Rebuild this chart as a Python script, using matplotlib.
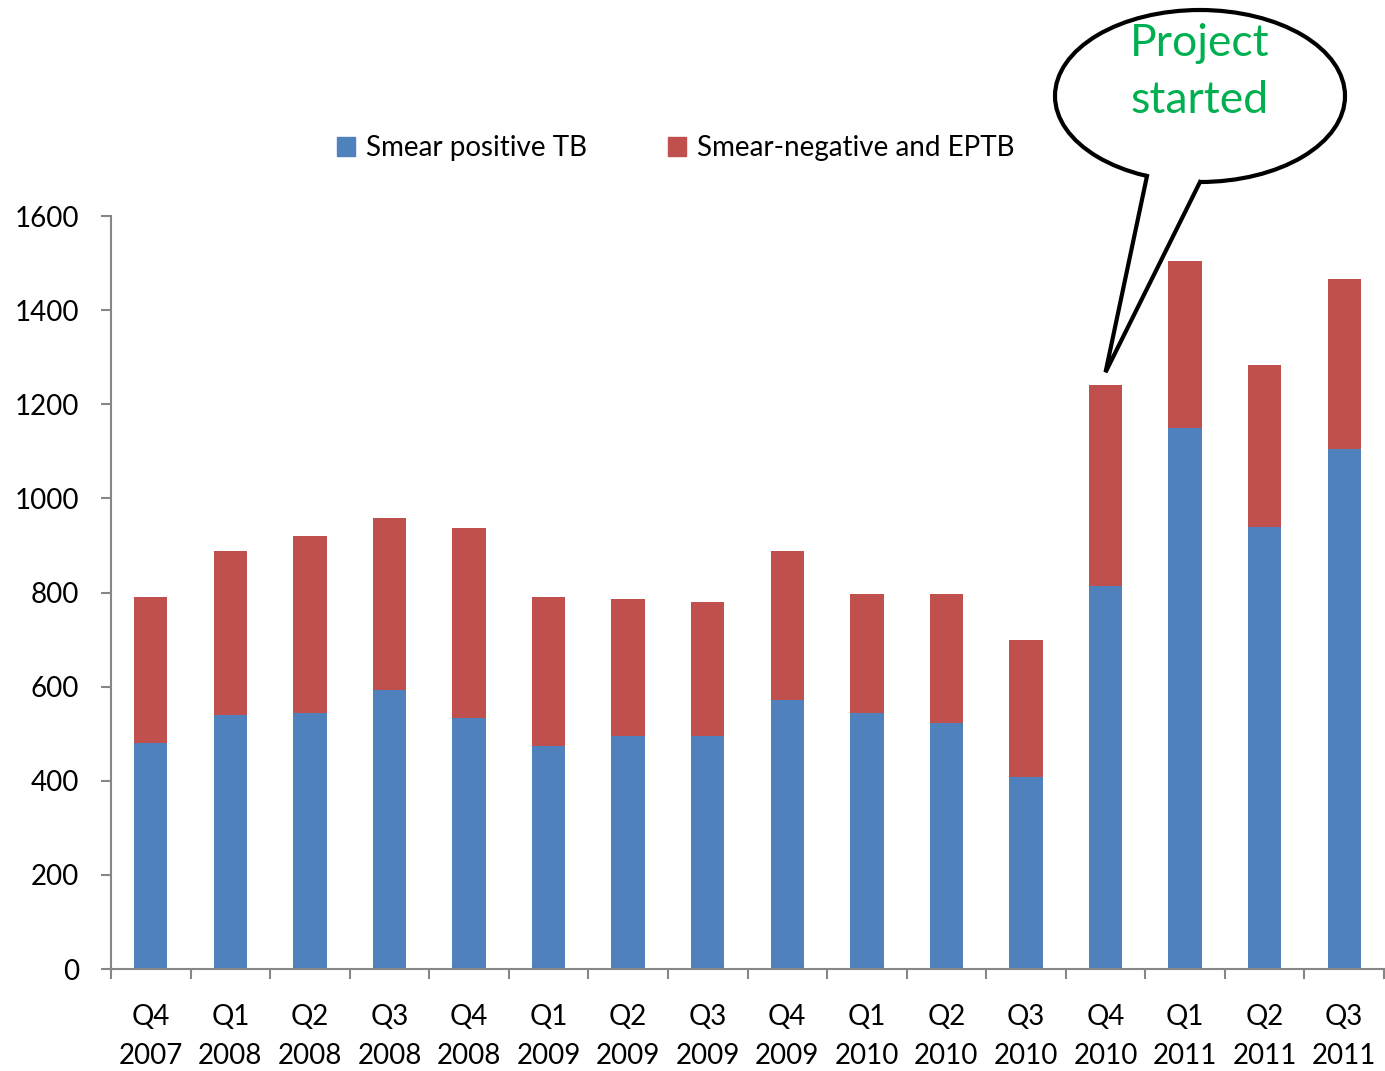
import matplotlib
matplotlib.use("Agg")
import matplotlib.pyplot as plt
from matplotlib.patches import Ellipse, Polygon, Patch
from matplotlib.lines import Line2D

plt.rcParams['font.family'] = ['Lato', 'DejaVu Sans']

quarters = ["Q4\n2007", "Q1\n2008", "Q2\n2008", "Q3\n2008", "Q4\n2008",
            "Q1\n2009", "Q2\n2009", "Q3\n2009", "Q4\n2009",
            "Q1\n2010", "Q2\n2010", "Q3\n2010", "Q4\n2010",
            "Q1\n2011", "Q2\n2011", "Q3\n2011"]
smear_pos = [480, 540, 544, 593, 533, 474, 495, 495, 572, 544, 523, 408, 814, 1150, 939, 1105]
totals = [790, 888, 920, 958, 937, 790, 786, 780, 888, 797, 797, 699, 1241, 1504, 1283, 1466]
smear_neg = [t - p for t, p in zip(totals, smear_pos)]

BLUE = "#4F81BD"
RED = "#C0504D"
GRAY = "#868686"

W, H = 1385, 1071
fig = plt.figure(figsize=(W / 100, H / 100), dpi=100)
ax = fig.add_axes([111 / W, 1 - 969 / H, 1273 / W, (969 - 216) / H])

x = list(range(len(quarters)))
ax.bar(x, smear_pos, width=0.42, color=BLUE, label="Smear positive TB")
ax.bar(x, smear_neg, width=0.42, bottom=smear_pos, color=RED,
       label="Smear-negative and EPTB")

ax.set_xlim(-0.5, len(quarters) - 0.5)
ax.set_ylim(0, 1600)
ax.set_yticks(range(0, 1601, 200))
ax.tick_params(axis='y', length=7, width=1.5, color=GRAY, labelsize=20, pad=16)

# ticks between categories, labels at centres
ax.set_xticks([i - 0.5 for i in range(len(quarters) + 1)])
ax.set_xticklabels([])
ax.set_xticks(x, minor=True)
ax.set_xticklabels(quarters, minor=True, linespacing=1.65)
ax.tick_params(axis='x', which='major', length=7, width=1.5, color=GRAY)
ax.tick_params(axis='x', which='minor', length=0, labelsize=20, pad=25)

for s in ["top", "right"]:
    ax.spines[s].set_visible(False)
for s in ["left", "bottom"]:
    ax.spines[s].set_color(GRAY)
    ax.spines[s].set_linewidth(1.5)

handles = [Patch(color=BLUE), Patch(color=RED)]
fig.legend(handles, ["Smear positive TB", "Smear-negative and EPTB"],
           loc="center left", bbox_to_anchor=(337 / W, 1 - 148 / H), ncol=2,
           frameon=False, fontsize=20, handlelength=0.65, handleheight=0.7,
           handletextpad=0.4, columnspacing=2.9, borderpad=0, borderaxespad=0)

# speech bubble
def fxy(px, py):
    return (px / W, 1 - py / H)

tip = fig.transFigure.inverted().transform(ax.transData.transform((12, 1268)))
bl, br = fxy(1147, 176), fxy(1200, 182)
ell = Ellipse(fxy(1200, 96), 290 / W, 172 / H, transform=fig.transFigure,
              facecolor="white", edgecolor="black", lw=3, zorder=10)
fig.patches.append(ell)
tail = Polygon([tip, bl, fxy(1147, 165), fxy(1200, 170), br], closed=True,
               transform=fig.transFigure, facecolor="white", edgecolor="none",
               zorder=11)
fig.patches.append(tail)
fig.lines.append(Line2D([bl[0], tip[0], br[0]], [bl[1], tip[1], br[1]],
                        transform=fig.transFigure, color="black", lw=3,
                        solid_joinstyle="miter", zorder=12))
fig.text(1200 / W, 1 - 72 / H, "Project\nstarted", ha="center", va="center",
         color="#00B050", fontsize=32, linespacing=1.5, zorder=13)

fig.savefig("out.png", dpi=100)
